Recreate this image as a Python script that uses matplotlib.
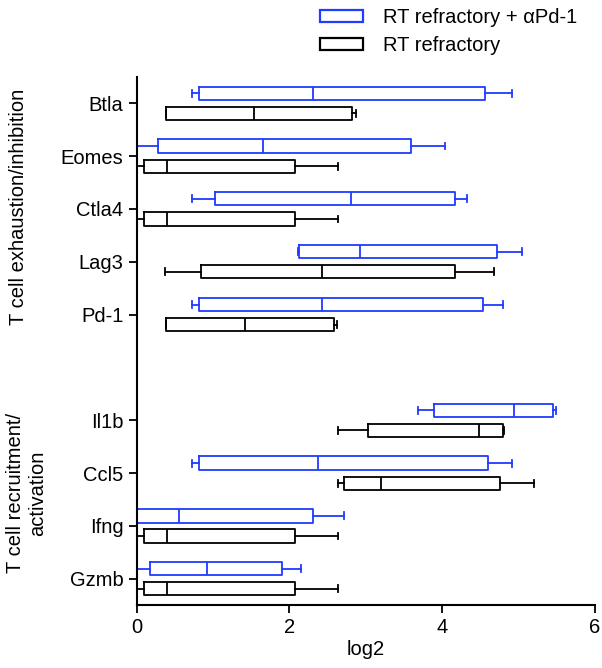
import matplotlib
matplotlib.use("Agg")
import matplotlib.pyplot as plt
from matplotlib.patches import Patch

plt.rcParams['font.family'] = ['Liberation Sans', 'DejaVu Sans']

genes = ["Btla", "Eomes", "Ctla4", "Lag3", "Pd-1", "Il1b", "Ccl5", "Ifng", "Gzmb"]
slots = [0, 1, 2, 3, 4, 6, 7, 8, 9]

# RT refractory + aPd-1 (blue): whisker low, q1, median, q3, whisker high
pd1_lo = [0.72, 0.00, 0.72, 2.11, 0.72, 3.69, 0.72, 0.00, 0.00]
pd1_q1 = [0.82, 0.275, 1.02, 2.12, 0.82, 3.90, 0.82, 0.00, 0.18]
pd1_med = [2.31, 1.66, 2.81, 2.93, 2.43, 4.94, 2.37, 0.56, 0.92]
pd1_q3 = [4.56, 3.59, 4.17, 4.72, 4.53, 5.45, 4.60, 2.31, 1.90]
pd1_hi = [4.91, 4.04, 4.33, 5.05, 4.80, 5.49, 4.91, 2.72, 2.15]

# RT refractory (black)
rt_lo = [0.38, 0.01, 0.01, 0.375, 0.38, 2.64, 2.64, 0.01, 0.01]
rt_q1 = [0.39, 0.09, 0.09, 0.84, 0.39, 3.03, 2.72, 0.09, 0.09]
rt_med = [1.54, 0.40, 0.40, 2.43, 1.42, 4.48, 3.20, 0.40, 0.40]
rt_q3 = [2.82, 2.08, 2.08, 4.17, 2.58, 4.80, 4.76, 2.08, 2.08]
rt_hi = [2.87, 2.64, 2.64, 4.68, 2.63, 4.81, 5.20, 2.64, 2.64]

BLUE = "#1f3cff"
FS = 14.5


def make_stats(lo, q1, med, q3, hi):
    return [dict(whislo=a, q1=b, med=c, q3=d, whishi=e, fliers=[])
            for a, b, c, d, e in zip(lo, q1, med, q3, hi)]


def draw(ax, stats, pos, color):
    line = dict(color=color, linewidth=1.3)
    ax.bxp(stats, positions=pos, widths=0.25, capwidths=0.13,
           orientation='horizontal', showfliers=False,
           boxprops=line, medianprops=line, whiskerprops=line, capprops=line)


fig = plt.figure(figsize=(6.02, 6.68), dpi=100)
ax = fig.add_axes([0.227, 0.094, 0.761, 0.791])

draw(ax, make_stats(pd1_lo, pd1_q1, pd1_med, pd1_q3, pd1_hi),
     [s - 0.19 for s in slots], BLUE)
draw(ax, make_stats(rt_lo, rt_q1, rt_med, rt_q3, rt_hi),
     [s + 0.19 for s in slots], "black")

ax.set_xlim(0, 6)
ax.set_ylim(9.5, -0.5)
ax.set_xticks([0, 2, 4, 6])
ax.set_yticks(slots)
ax.set_yticklabels(genes)
ax.tick_params(labelsize=FS, width=1.3, length=6)
ax.set_xlabel("log2", fontsize=FS, labelpad=2)
for side in ["top", "right"]:
    ax.spines[side].set_visible(False)
for side in ["left", "bottom"]:
    ax.spines[side].set_linewidth(1.5)

fig.text(0.03, 0.690, "T cell exhaustion/inhibition", rotation=90,
         ha="center", va="center", fontsize=FS)
fig.text(0.044, 0.262, "T cell recruitment/\nactivation", rotation=90,
         ha="center", va="center", fontsize=FS, linespacing=1.2)

handles = [Patch(facecolor="white", edgecolor=BLUE, linewidth=1.6),
           Patch(facecolor="white", edgecolor="black", linewidth=1.6)]
fig.legend(handles, ["RT refractory + \u03b1Pd-1", "RT refractory"],
           loc="upper left", bbox_to_anchor=(0.529, 0.991), frameon=False,
           fontsize=FS, handlelength=2.1, handleheight=0.5,
           handletextpad=1.0, labelspacing=0.45, borderpad=0.1,
           borderaxespad=0)

fig.savefig("out.png", dpi=100)
